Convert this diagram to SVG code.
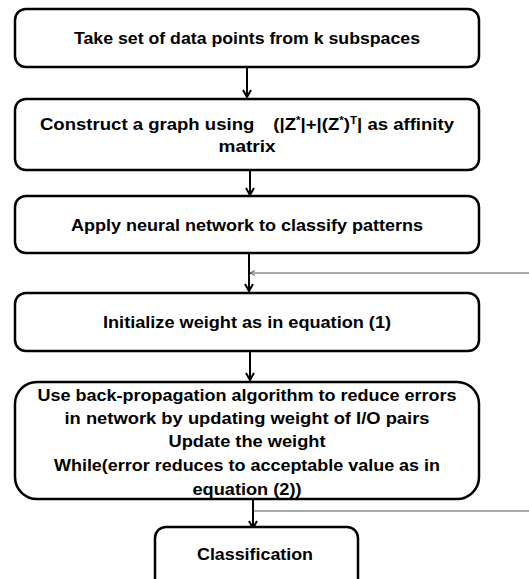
<svg xmlns="http://www.w3.org/2000/svg" width="529" height="579" viewBox="0 0 529 579">
<style>
.box{fill:#fff;stroke:#000;stroke-width:2.5}
.t{font-family:"Liberation Sans",Arial,sans-serif;font-weight:bold;font-size:16px;fill:#000;text-anchor:middle}
.c{stroke:#000;stroke-width:2;fill:none}
.fb{stroke:#555;stroke-width:1;fill:none}
</style>
<defs>
<marker id="ah" markerWidth="10" markerHeight="10" refX="8" refY="5" orient="auto" markerUnits="userSpaceOnUse">
<path d="M1,1 L8,5 L1,9" fill="none" stroke="#000" stroke-width="2"/>
</marker>
<marker id="ah2" markerWidth="8" markerHeight="8" refX="6" refY="4" orient="auto" markerUnits="userSpaceOnUse">
<path d="M1,1.5 L6,4 L1,6.5" fill="none" stroke="#555" stroke-width="1"/>
</marker>
</defs>
<rect width="529" height="579" fill="#fff"/>
<g id="connectors">
<line class="c" x1="247" y1="67" x2="247" y2="97" marker-end="url(#ah)"/>
<line class="c" x1="250" y1="170" x2="250" y2="195" marker-end="url(#ah)"/>
<line class="c" x1="249" y1="253" x2="249" y2="291" marker-end="url(#ah)"/>
<line class="fb" x1="529" y1="273" x2="250" y2="273" marker-end="url(#ah2)"/>
<line class="c" x1="250" y1="351" x2="250" y2="380" marker-end="url(#ah)"/>
<line class="c" x1="253" y1="499" x2="253" y2="528" marker-end="url(#ah)"/>
<line class="fb" x1="254" y1="511" x2="529" y2="511"/>
</g>
<g id="n1">
<rect class="box" x="15" y="9" width="464" height="58" rx="11"/>
<text class="t" x="247" y="44" textLength="346" lengthAdjust="spacingAndGlyphs">Take set of data points from k subspaces</text>
</g>
<g id="n2">
<rect class="box" x="15" y="99" width="464" height="71" rx="11"/>
<text class="t" x="247" y="130" textLength="414" lengthAdjust="spacingAndGlyphs">Construct a graph using <tspan dx="12">(|Z</tspan><tspan font-size="10" dy="-6">*</tspan><tspan dy="6">|+|(Z</tspan><tspan font-size="10" dy="-6">*</tspan><tspan dy="6">)</tspan><tspan font-size="10" dy="-6">T</tspan><tspan dy="6">| as affinity</tspan></text>
<text class="t" x="247" y="152" textLength="57" lengthAdjust="spacingAndGlyphs">matrix</text>
</g>
<g id="n3">
<rect class="box" x="15" y="196" width="464" height="57" rx="11"/>
<text class="t" x="247" y="231" textLength="352" lengthAdjust="spacingAndGlyphs">Apply neural network to classify patterns</text>
</g>
<g id="n4">
<rect class="box" x="15" y="293" width="464" height="58" rx="11"/>
<text class="t" x="247" y="328" textLength="288" lengthAdjust="spacingAndGlyphs">Initialize weight as in equation (1)</text>
</g>
<g id="n5">
<rect class="box" x="15" y="382" width="464" height="117" rx="22"/>
<text class="t" x="247" y="401" textLength="419" lengthAdjust="spacingAndGlyphs">Use back-propagation algorithm to reduce errors</text>
<text class="t" x="247" y="424" textLength="365" lengthAdjust="spacingAndGlyphs">in network by updating weight of I/O pairs</text>
<text class="t" x="247" y="447" textLength="157" lengthAdjust="spacingAndGlyphs">Update the weight</text>
<text class="t" x="247" y="471" textLength="386" lengthAdjust="spacingAndGlyphs">While(error reduces to acceptable value as in</text>
<text class="t" x="247" y="495" textLength="109" lengthAdjust="spacingAndGlyphs">equation (2))</text>
</g>
<g id="n6">
<rect class="box" x="155" y="527" width="203" height="70" rx="11"/>
<text class="t" x="255" y="560" textLength="116" lengthAdjust="spacingAndGlyphs">Classification</text>
</g>
</svg>
